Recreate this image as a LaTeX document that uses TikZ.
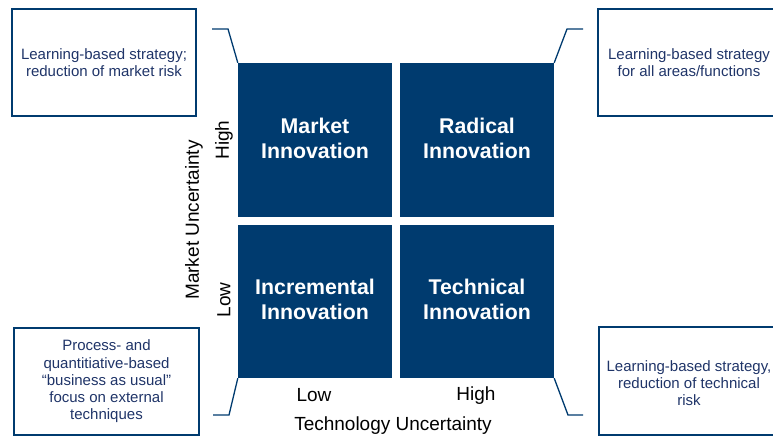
\documentclass[tikz,border=0pt]{standalone}
\usepackage{fontspec}
\setmainfont{Liberation Sans}
\definecolor{navy}{HTML}{003B6F}
\definecolor{boxtext}{HTML}{1F3468}
\begin{document}
\begin{tikzpicture}[x=1pt,y=-1pt,
  quad/.style={fill=navy, draw=none, inner sep=0pt, minimum width=154pt, minimum height=154pt},
  quadtext/.style={text=white, align=center, inner sep=0pt, font=\fontsize{21.3}{25}\selectfont\bfseries},
  note/.style={draw=navy, line width=1.3pt, inner sep=0pt},
  notetext/.style={inner sep=0pt, align=center, text=boxtext, font=\fontsize{15}{17.3}\selectfont},
  axis/.style={text=black, inner sep=0pt, font=\fontsize{19}{22}\selectfont},
  link/.style={draw=navy, line width=1.3pt}]
\useasboundingbox (0,0) rectangle (773,437);
\node[quad] (tl) at (315,140) {};
\node[quad] (tr) at (477,140) {};
\node[quad, minimum height=153pt] (bl) at (315,301.5) {};
\node[quad, minimum height=153pt] (br) at (477,301.5) {};
\node[quadtext] (qtl) at (315,138.5) {Market\\Innovation};
\node[quadtext] (qtr) at (477,138.5) {Radical\\Innovation};
\node[quadtext] (qbl) at (315,299.5) {Incremental\\Innovation};
\node[quadtext] (qbr) at (477,299.5) {Technical\\Innovation};

\node[note, minimum width=184pt, minimum height=107pt] (ntl) at (104,62.5) {};
\node[notetext] (ttl) at (104,62.5) {Learning-based strategy;\\reduction of market risk};
\node[note, minimum width=177pt, minimum height=107pt] (ntr) at (686.5,62.5) {};
\node[notetext] (ttr) at (689,62.5) {Learning-based strategy\\for all areas/functions};
\node[note, minimum width=185pt, minimum height=107pt] (nbl) at (106.5,381.5) {};
\node[notetext] (tbl) at (106.5,381.5) {Process- and\\quantitiative-based\\“business as usual”\\focus on external\\techniques};
\node[note, minimum width=176pt, minimum height=108pt] (nbr) at (687,381) {};
\node[notetext] (tbr) at (689,383) {Learning-based strategy,\\reduction of technical\\risk};

\coordinate (a1) at (212,29);
\coordinate (a2) at (228,29);
\draw[link] (a1) -- (a2) -- (tl.north west);
\coordinate (b1) at (583,29);
\coordinate (b2) at (567,29);
\draw[link] (b1) -- (b2) -- (tr.north east);
\coordinate (c1) at (213,415);
\coordinate (c2) at (229,415);
\draw[link] (c1) -- (c2) -- (bl.south west);
\coordinate (d1) at (583,415);
\coordinate (d2) at (568,415);
\draw[link] (d1) -- (d2) -- (br.south east);

\node[axis, rotate=90] (yh) at (224,140) {High};
\node[axis, rotate=90] (yl) at (224,300) {Low};
\node[axis, rotate=90] (ylab) at (194,220) {Market Uncertainty};
\node[axis] (xl) at (314,395.5) {Low};
\node[axis] (xh) at (476,395.5) {High};
\node[axis] (xlab) at (393,425.5) {Technology Uncertainty};
\end{tikzpicture}
\end{document}
